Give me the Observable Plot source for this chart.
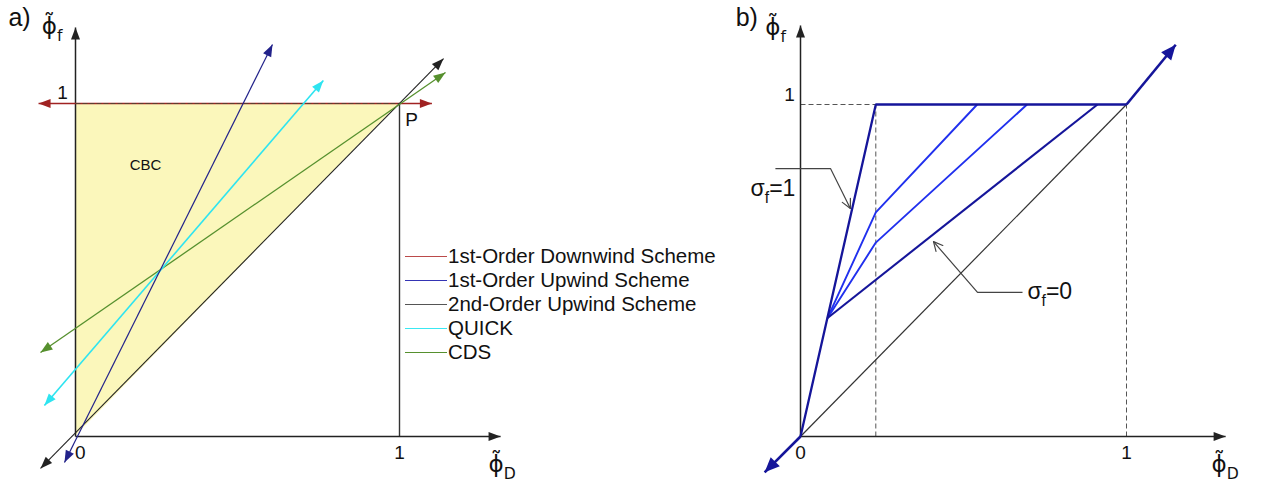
<!DOCTYPE html>
<html>
<head>
<meta charset="utf-8">
<script src="https://cdn.jsdelivr.net/npm/d3@7"></script>
<script src="https://cdn.jsdelivr.net/npm/@observablehq/plot@0.6"></script>
<style>
  html, body { margin: 0; padding: 0; background: #fff; }
  body { font-family: "Liberation Sans", Arial, Helvetica, sans-serif; }
  #wrap { display: flex; width: 1261px; height: 485px; overflow: hidden; background: #fff; }
  .panel { position: relative; height: 485px; }
  #panelA { z-index: 2; }
  #panelB { z-index: 1; }
  .legend { position: absolute; left: 405px; top: 244px; font-size: 20.5px; color: #111; }
  .legend .row { display: flex; align-items: center; height: 24px; white-space: nowrap; }
  .legend .sw { display: inline-block; width: 42px; height: 0; border-top: 1.5px solid; margin-right: 1px; }
</style>
</head>
<body>
<div id="wrap">
  <div class="panel" id="panelA"></div>
  <div class="panel" id="panelB"></div>
</div>
<script>
// ---------- Panel a: normalized variable diagram of classic schemes ----------
// each scheme is a straight characteristic (phiD, phiF) drawn with arrows at both ends
const schemeNames = ["1st-Order Downwind Scheme", "1st-Order Upwind Scheme", "2nd-Order Upwind Scheme", "QUICK", "CDS"];
const schemeColors = ["#a02222", "#22228a", "#222222", "#2ee4f0", "#56902e"];
const legendColors = ["#bb4a4a", "#3434b4", "#555555", "#3ae8f2", "#56902e"];
const downwindLine = [[-0.114, 1.0], [1.10, 1.0]];
const upwind1Line = [[-0.034, -0.078], [0.608, 1.177]];
const upwind2Line = [[-0.108, -0.096], [1.136, 1.135]];
const quickLine = [[-0.096, 0.093], [0.765, 1.069]];
const cdsLine = [[-0.108, 0.252], [1.142, 1.093]];

// convection boundedness criterion region: between phiF = phiD and phiF = 1
const cbcPhiD = [0, 1];
const cbcLower = [0, 1];
const cbcUpper = [1, 1];

// axes (with arrow tips) and guide lines
const axisXA = [[0, 0], [1.312, 0]];
const axisYA = [[0, 0], [0, 1.228]];
const unitLineA = [[1, 0], [1, 1]];
const topDashA = [[0, 1], [1, 1]];

// text placed on the diagram ("_{..}" = subscript)
const PHI = "\u03D5\u0303";
const panelTagA = [{ x: -0.207, y: 1.258, text: "a)" }];
const axisTitlesA = [
  { x: -0.104, y: 1.230, text: PHI + "_{f}" },
  { x: 1.275, y: -0.085, text: PHI + "_{D}" }
];
const tickLabelsA = [
  { x: 0.015, y: -0.050, text: "0" },
  { x: 1.0, y: -0.050, text: "1" },
  { x: -0.040, y: 1.033, text: "1" }
];
const pointLabelA = [{ x: 1.037, y: 0.952, text: "P" }];
const regionLabelA = [{ x: 0.216, y: 0.816, text: "CBC" }];

// ---------- Panel b: family of bounded schemes between sigma_f = 0 and sigma_f = 1 ----------
const sigma1Curve = [[0, 0], [0.231, 1], [1, 1]];
const sigma0Curve = [[0.083, 0.357], [0.911, 1]];
const sigmaMidCurves = [
  [[0.083, 0.357], [0.231, 0.584], [0.695, 1]],
  [[0.083, 0.357], [0.231, 0.675], [0.542, 1]]
];
const diagonalB = [[0, 0], [1, 1]];
const arrowOutLow = [[0, 0], [-0.11, -0.108]];
const arrowOutHigh = [[1, 1], [1.151, 1.18]];
const dashLinesB = [
  [[0, 1], [1, 1]],
  [[0.231, 0], [0.231, 1]],
  [[1, 0], [1, 1]]
];
const axisXB = [[0, 0], [1.304, 0]];
const axisYB = [[0, 0], [0, 1.238]];

const leaderSigma1 = [[-0.077, 0.807], [0.092, 0.807], [0.153, 0.687]];
const leaderSigma0 = [[0.681, 0.434], [0.543, 0.434], [0.408, 0.587]];

const panelTagB = [{ x: -0.199, y: 1.262, text: "b)" }];
const axisTitlesB = [
  { x: -0.108, y: 1.232, text: PHI + "_{f}" },
  { x: 1.261, y: -0.085, text: PHI + "_{D}" }
];
const sigmaLabelsB = [
  { x: -0.153, y: 0.747, text: "σ_{f}=1" },
  { x: 0.696, y: 0.437, text: "σ_{f}=0" }
];
const tickLabelsB = [
  { x: 0.0, y: -0.050, text: "0" },
  { x: 1.0, y: -0.050, text: "1" },
  { x: -0.034, y: 1.030, text: "1" }
];

const FONT = "Liberation Sans, Arial, Helvetica, sans-serif";
const PHI_FONT = "DejaVu Sans, Liberation Sans, sans-serif";
const LEADER = "#444444";
const NAVY_B = "#15159a";
const BLUE_B = "#2030ee";
// arrowhead length / half-width by stroke colour
const headSize = {
  [NAVY_B]: [15, 6.5],
  "#222222": [12, 4.5]
};

const px = d => d[0];
const py = d => d[1];

function pathLine(data, opts) {
  return Plot.line(data, { x: px, y: py, strokeLinecap: "butt", ...opts });
}
// a segment with arrowheads pointing outward at both ends
function doubleArrow(data, opts) {
  return pathLine(data, { markerStart: "arrow-reverse", markerEnd: "arrow", ...opts });
}

// turn Plot's open arrow markers into filled arrowheads, keep the leader ones open
function styleMarkers(svg) {
  d3.select(svg).selectAll("marker").each(function () {
    const m = d3.select(this);
    const c = m.attr("stroke");
    const p = m.select("path");
    m.attr("markerUnits", "userSpaceOnUse");
    if (c === LEADER) {
      m.attr("viewBox", "-11 -6 12 12").attr("markerWidth", 12).attr("markerHeight", 12)
        .attr("stroke-width", 1.2).attr("fill", "none");
      p.attr("d", "M-9,-4.5L0,0L-9,4.5");
    } else {
      const [len, half] = headSize[c] || [12, 4.5];
      const W = len + 2, H = 2 * half + 2;
      m.attr("viewBox", `${-len - 1} ${-half - 1} ${W} ${H}`)
        .attr("markerWidth", W).attr("markerHeight", H)
        .attr("fill", c).attr("stroke", "none");
      p.attr("d", `M${-len},${-half}L0,0L${-len},${half}Z`);
    }
  });
}

// "_{..}" in a label becomes a subscript tspan
function subscripts(svg) {
  d3.select(svg).selectAll("text").each(function () {
    const t = this.textContent;
    if (!t.includes("_{")) return;
    const fs = parseFloat(getComputedStyle(this).fontSize) || 20;
    const parts = t.split(/_\{([^}]*)\}/);
    this.textContent = "";
    const sel = d3.select(this);
    let shifted = false;
    parts.forEach((s, i) => {
      if (!s) return;
      const ts = sel.append("tspan").text(s);
      if (i % 2) {
        ts.attr("font-size", fs * 0.68).attr("dy", fs * 0.3);
        shifted = true;
      } else if (shifted) {
        ts.attr("dy", -fs * 0.3);
        shifted = false;
      }
    });
  });
}

const textOpts = { x: "x", y: "y", text: "text", fill: "#111" };

const plotA = Plot.plot({
  width: 630,
  height: 485,
  margin: 0,
  x: { domain: [0, 1], range: [75, 399], axis: null },
  y: { domain: [0, 1], range: [436, 103], axis: null },
  style: { fontFamily: FONT, background: "#fff", overflow: "visible" },
  marks: [
    Plot.areaY(cbcPhiD.map((d, i) => ({ d, lo: cbcLower[i], hi: cbcUpper[i] })),
      { x: "d", y1: "lo", y2: "hi", fill: "#fbf7bb" }),
    pathLine(unitLineA, { stroke: "#333", strokeWidth: 1.4 }),
    pathLine(axisXA, { stroke: "#222222", strokeWidth: 1.5, markerEnd: "arrow" }),
    pathLine(axisYA, { stroke: "#222222", strokeWidth: 1.5, markerEnd: "arrow" }),
    doubleArrow(downwindLine, { stroke: schemeColors[0], strokeWidth: 1.3 }),
    pathLine(topDashA, { stroke: "#5a4030", strokeWidth: 1, strokeDasharray: "5,2" }),
    doubleArrow(upwind2Line, { stroke: schemeColors[2], strokeWidth: 1.1 }),
    doubleArrow(cdsLine, { stroke: schemeColors[4], strokeWidth: 1.3 }),
    doubleArrow(quickLine, { stroke: schemeColors[3], strokeWidth: 1.6 }),
    doubleArrow(upwind1Line, { stroke: schemeColors[1], strokeWidth: 1.2 }),
    Plot.text(panelTagA, { ...textOpts, fontSize: 25, textAnchor: "start" }),
    Plot.text(axisTitlesA, { ...textOpts, fontSize: 23, fontFamily: PHI_FONT, textAnchor: "start" }),
    Plot.text(tickLabelsA, { ...textOpts, fontSize: 19 }),
    Plot.text(pointLabelA, { ...textOpts, fontSize: 19 }),
    Plot.text(regionLabelA, { ...textOpts, fontSize: 15 })
  ]
});

const plotB = Plot.plot({
  width: 631,
  height: 485,
  margin: 0,
  x: { domain: [0, 1], range: [170, 496], axis: null },
  y: { domain: [0, 1], range: [436, 104], axis: null },
  style: { fontFamily: FONT, background: "transparent", overflow: "visible" },
  marks: [
    ...dashLinesB.map(seg => pathLine(seg, { stroke: "#555", strokeWidth: 1, strokeDasharray: "5,3" })),
    pathLine(diagonalB, { stroke: "#333", strokeWidth: 1.2 }),
    pathLine(axisXB, { stroke: "#222222", strokeWidth: 1.5, markerEnd: "arrow" }),
    pathLine(axisYB, { stroke: "#222222", strokeWidth: 1.5, markerEnd: "arrow" }),
    ...sigmaMidCurves.map(c => pathLine(c, { stroke: BLUE_B, strokeWidth: 1.9, strokeLinejoin: "miter" })),
    pathLine(sigma0Curve, { stroke: NAVY_B, strokeWidth: 2.1 }),
    pathLine(sigma1Curve, { stroke: NAVY_B, strokeWidth: 2.3, strokeLinejoin: "miter" }),
    pathLine(arrowOutLow, { stroke: NAVY_B, strokeWidth: 2.6, markerEnd: "arrow" }),
    pathLine(arrowOutHigh, { stroke: NAVY_B, strokeWidth: 2.6, markerEnd: "arrow" }),
    pathLine(leaderSigma1, { stroke: LEADER, strokeWidth: 1.2, markerEnd: "arrow", strokeLinejoin: "miter" }),
    pathLine(leaderSigma0, { stroke: LEADER, strokeWidth: 1.2, markerEnd: "arrow", strokeLinejoin: "miter" }),
    Plot.text(panelTagB, { ...textOpts, fontSize: 25, textAnchor: "start" }),
    Plot.text(axisTitlesB, { ...textOpts, fontSize: 23, fontFamily: PHI_FONT, textAnchor: "start" }),
    Plot.text(sigmaLabelsB, { ...textOpts, fontSize: 23, textAnchor: "start" }),
    Plot.text(tickLabelsB, { ...textOpts, fontSize: 19 })
  ]
});

document.getElementById("panelA").appendChild(plotA);
document.getElementById("panelB").appendChild(plotB);
[plotA, plotB].forEach(svg => { styleMarkers(svg); subscripts(svg); });

// legend for panel a
const legend = d3.select("#panelA").append("div").attr("class", "legend");
schemeNames.forEach((name, i) => {
  const row = legend.append("div").attr("class", "row");
  row.append("span").attr("class", "sw").style("border-top-color", legendColors[i]);
  row.append("span").text(name);
});
</script>
</body>
</html>
